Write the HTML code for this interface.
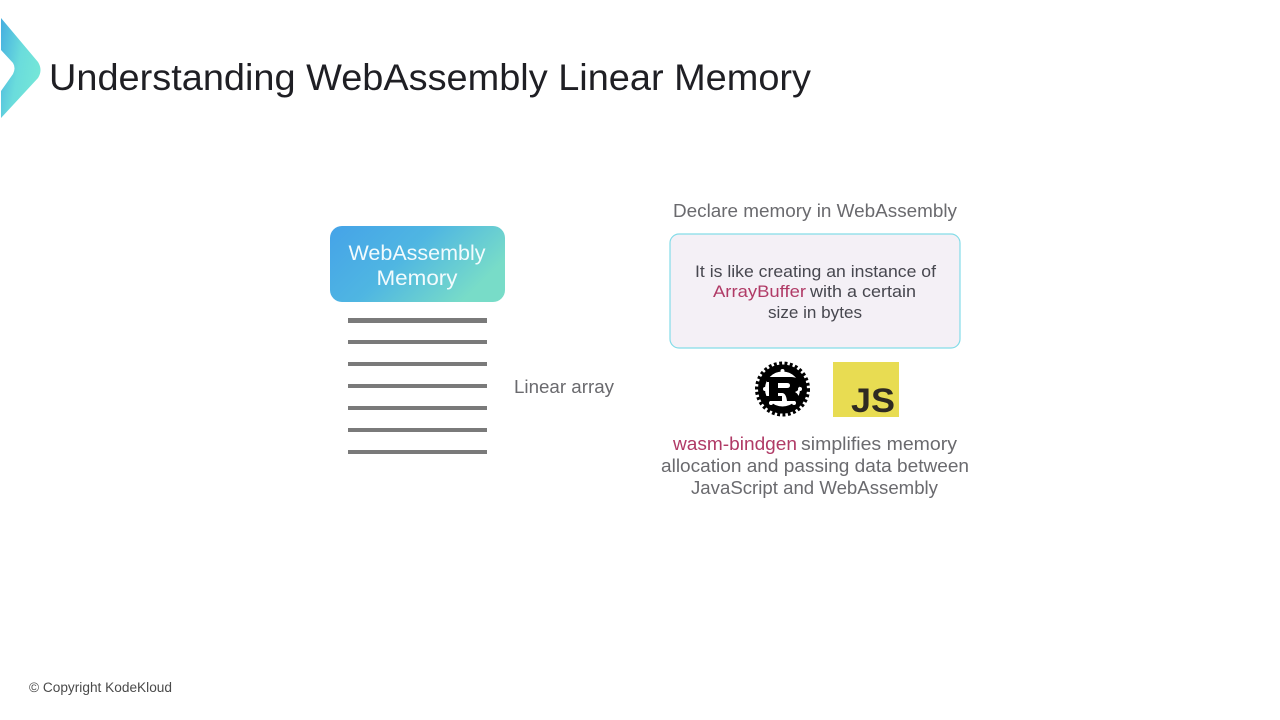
<!DOCTYPE html>
<html>
<head>
<meta charset="utf-8">
<style>
html,body{margin:0;padding:0;background:#fff;width:1280px;height:720px;overflow:hidden}
svg{display:block}
text{font-family:"Liberation Sans","DejaVu Sans",sans-serif}
</style>
</head>
<body>
<svg width="1280" height="720" viewBox="0 0 1280 720" xmlns="http://www.w3.org/2000/svg">
<defs>
<linearGradient id="logo" x1="0" y1="0" x2="1" y2="0.45"><stop offset="0" stop-color="#45aee0"/><stop offset="0.55" stop-color="#6adcdc"/><stop offset="1" stop-color="#74e6d8"/></linearGradient>
<linearGradient id="box" x1="0" y1="0" x2="1" y2="0.45"><stop offset="0" stop-color="#45a3e8"/><stop offset="0.5" stop-color="#4fb6e2"/><stop offset="1" stop-color="#78dcc8"/></linearGradient>
</defs>
<path d="M1 18 L38 62 Q43 70 38 78 L1 118 L1 91 L13 74 Q16 68 13 63 L1 50 Z" fill="url(#logo)"/>
<text x="49" y="90" font-size="37" fill="#1f1f24" textLength="762" lengthAdjust="spacingAndGlyphs">Understanding WebAssembly Linear Memory</text>

<rect x="330" y="226" width="175" height="76" rx="12" fill="url(#box)"/>
<text x="417" y="260" font-size="21" fill="#f2fbfd" text-anchor="middle" textLength="137" lengthAdjust="spacingAndGlyphs">WebAssembly</text>
<text x="417" y="285" font-size="21" fill="#f2fbfd" text-anchor="middle" textLength="81" lengthAdjust="spacingAndGlyphs">Memory</text>
<g fill="#7a7a7a">
<rect x="348" y="318" width="139" height="5"/>
<rect x="348" y="340" width="139" height="4"/>
<rect x="348" y="362" width="139" height="4"/>
<rect x="348" y="384" width="139" height="4"/>
<rect x="348" y="406" width="139" height="4"/>
<rect x="348" y="428" width="139" height="4"/>
<rect x="348" y="450" width="139" height="4"/>
</g>
<text x="514" y="393" font-size="18" fill="#6a6a6e" textLength="100" lengthAdjust="spacingAndGlyphs">Linear array</text>

<text x="673" y="217" font-size="18" fill="#6a6a6e" textLength="284" lengthAdjust="spacingAndGlyphs">Declare memory in WebAssembly</text>
<rect x="670" y="234" width="290" height="114" rx="9" fill="#f4f0f6" stroke="#84dce8" stroke-width="1.2"/>
<text x="695" y="277" font-size="17" fill="#47474f" textLength="241" lengthAdjust="spacingAndGlyphs">It is like creating an instance of</text>
<text x="713" y="297" font-size="17" fill="#b03a66" textLength="93" lengthAdjust="spacingAndGlyphs">ArrayBuffer</text>
<text x="810" y="297" font-size="17" fill="#47474f" textLength="106" lengthAdjust="spacingAndGlyphs">with a certain</text>
<text x="768" y="318" font-size="17" fill="#47474f" textLength="94" lengthAdjust="spacingAndGlyphs">size in bytes</text>

<circle cx="782.5" cy="389" r="21" fill="none" stroke="#000" stroke-width="7"/>
<circle cx="782.5" cy="389" r="25" fill="none" stroke="#000" stroke-width="5" stroke-dasharray="2.8 2.4"/>
<path d="M767 377 H791 Q800 377 800 385 Q800 390 795 392 Q799 394 800 401 H787 Q786 393 782 393 H778 V396 H782 V401 H765 V396 H769 V382 H767 Z" fill="#000"/>
<path d="M778 383 H787 Q790 383 790 385.500 Q790 388 787 388 H778 Z" fill="#fff"/>
<circle cx="765" cy="389" r="2" fill="#fff"/>
<circle cx="800" cy="389" r="2" fill="#fff"/>
<circle cx="782.500" cy="371" r="2" fill="#fff"/>
<circle cx="771" cy="403" r="2" fill="#fff"/>
<circle cx="794" cy="403" r="2" fill="#fff"/>

<rect x="833" y="362" width="66" height="55" fill="#e8dc52"/>
<text x="851" y="412" font-size="34" font-weight="bold" fill="#2e2a22" textLength="44" lengthAdjust="spacingAndGlyphs">JS</text>

<text x="673" y="450" font-size="18" fill="#b03a66" textLength="124" lengthAdjust="spacingAndGlyphs">wasm-bindgen</text>
<text x="801" y="450" font-size="18" fill="#6a6a6e" textLength="156" lengthAdjust="spacingAndGlyphs">simplifies memory</text>
<text x="661" y="472" font-size="18" fill="#6a6a6e" textLength="308" lengthAdjust="spacingAndGlyphs">allocation and passing data between</text>
<text x="691" y="494" font-size="18" fill="#6a6a6e" textLength="247" lengthAdjust="spacingAndGlyphs">JavaScript and WebAssembly</text>

<text x="29" y="692" font-size="13.500" fill="#4a4a4a" textLength="143" lengthAdjust="spacingAndGlyphs">© Copyright KodeKloud</text>
</svg>
</body>
</html>
